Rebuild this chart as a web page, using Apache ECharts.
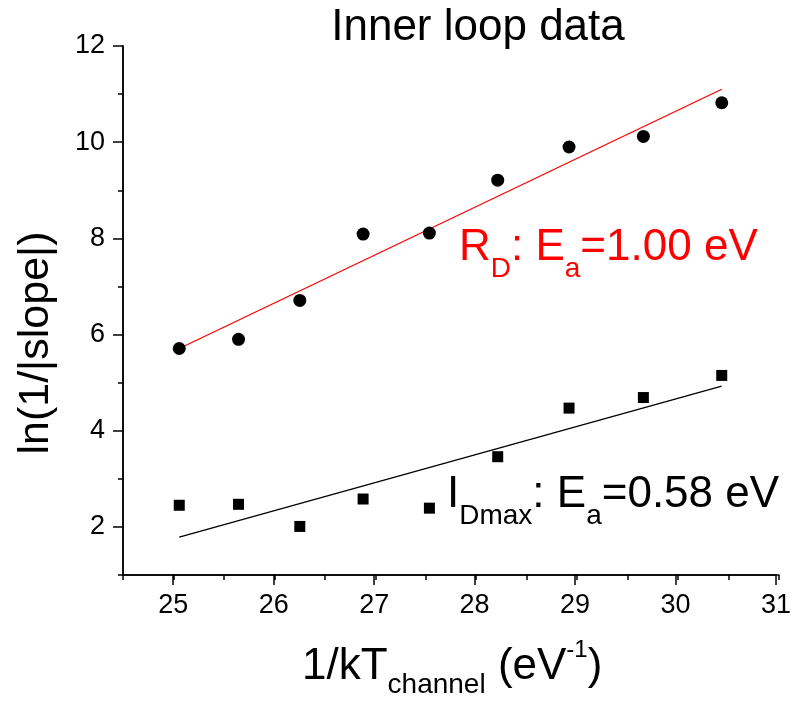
<!DOCTYPE html>
<html>
<head>
<meta charset="utf-8">
<script src="https://cdn.jsdelivr.net/npm/echarts@6/dist/echarts.min.js"></script>
<style>html,body{margin:0;padding:0;background:#fff}#c{width:794px;height:702px}</style>
</head>
<body>
<div id="c"></div>
<script>
// Data
const invKT = [25.06, 25.65, 26.26, 26.89, 27.55, 28.23, 28.94, 29.68, 30.46];
const lnRD = [5.71, 5.90, 6.71, 8.09, 8.11, 9.21, 9.90, 10.12, 10.82];
const lnIDmax = [2.45, 2.47, 2.01, 2.58, 2.39, 3.46, 4.47, 4.69, 5.15];
const fitRD = [[25.06, 5.71], [30.46, 11.10]];
const fitIDmax = [[25.06, 1.79], [30.46, 4.93]];
const xMajorTicks = [25, 26, 27, 28, 29, 30, 31];
const yMajorTicks = [2, 4, 6, 8, 10, 12];

const FONT = '"Liberation Sans", Arial, sans-serif';
const chart = echarts.init(document.getElementById('c'), null, {renderer: 'canvas'});
const gridBox = {left: 123, top: 46, width: 656, height: 529};
const axisLineStyle = {color: '#000', width: 1.5};

const option = {
  animation: false,
  backgroundColor: '#fff',
  grid: [Object.assign({}, gridBox), Object.assign({}, gridBox)],
  xAxis: [
    {gridIndex: 0, type: 'value', min: 24.5, max: 31, interval: 0.5,
     axisLine: {show: true, lineStyle: axisLineStyle},
     axisTick: {show: true, length: 5, lineStyle: axisLineStyle},
     axisLabel: {show: false}, splitLine: {show: false}},
    {gridIndex: 1, type: 'value', min: 24.5, max: 31,
     axisLine: {show: true, lineStyle: axisLineStyle},
     axisTick: {show: true, length: 10, customValues: xMajorTicks, lineStyle: axisLineStyle},
     axisLabel: {show: true, customValues: xMajorTicks, fontSize: 27, fontFamily: FONT, color: '#000', margin: 17},
     splitLine: {show: false}}
  ],
  yAxis: [
    {gridIndex: 0, type: 'value', min: 1, max: 12, interval: 1,
     axisLine: {show: true, lineStyle: axisLineStyle},
     axisTick: {show: true, length: 5, lineStyle: axisLineStyle},
     axisLabel: {show: false}, splitLine: {show: false}},
    {gridIndex: 1, type: 'value', min: 1, max: 12,
     axisLine: {show: true, lineStyle: axisLineStyle},
     axisTick: {show: true, length: 10, customValues: yMajorTicks, lineStyle: axisLineStyle},
     axisLabel: {show: true, customValues: yMajorTicks, fontSize: 27, fontFamily: FONT, color: '#000', margin: 18},
     splitLine: {show: false}}
  ],
  series: [
    {type: 'line', xAxisIndex: 1, yAxisIndex: 1, data: fitRD, symbol: 'none',
     lineStyle: {color: '#ff0000', width: 1.3}, z: 2},
    {type: 'line', xAxisIndex: 1, yAxisIndex: 1, data: fitIDmax, symbol: 'none',
     lineStyle: {color: '#000', width: 1.3}, z: 2},
    {type: 'scatter', xAxisIndex: 1, yAxisIndex: 1, symbol: 'circle', symbolSize: 13,
     itemStyle: {color: '#000', opacity: 1}, data: invKT.map((x, i) => [x, lnRD[i]]), z: 3},
    {type: 'scatter', xAxisIndex: 1, yAxisIndex: 1, symbol: 'rect', symbolSize: 11,
     itemStyle: {color: '#000', opacity: 1}, data: invKT.map((x, i) => [x, lnIDmax[i]]), z: 3}
  ],
  graphic: [
    {type: 'text', x: 478, y: 28, style: {text: 'Inner loop data', font: '44px ' + FONT, fill: '#000', align: 'center', verticalAlign: 'middle'}},
    {type: 'text', x: 36, y: 343, rotation: Math.PI / 2,
     style: {text: 'ln(1/|slope|)', font: '43px ' + FONT, fill: '#000', align: 'center', verticalAlign: 'middle'}},
    {type: 'text', x: 302, y: 637,
     style: {text: '{m|1/kT}{b|channel}{m| (eV}{p|-1}{m|)}', align: 'left', verticalAlign: 'top', fill: '#000',
       rich: {
         m: {fontSize: 44, fontFamily: FONT, fill: '#000', verticalAlign: 'top', padding: [8, 0, 0, 0]},
         b: {fontSize: 28, fontFamily: FONT, fill: '#000', verticalAlign: 'top', padding: [34, 0, 0, 0]},
         p: {fontSize: 24, fontFamily: FONT, fill: '#000', verticalAlign: 'top', padding: [1, 0, 0, 0]}
       }}},
    {type: 'text', x: 459, y: 226,
     style: {text: '{m|R}{s|D}{m|: E}{s|a}{m|=1.00 eV}', align: 'left', verticalAlign: 'top', fill: '#ff0000',
       rich: {
         m: {fontSize: 44, fontFamily: FONT, fill: '#ff0000', verticalAlign: 'top', padding: [0, 0, 0, 0]},
         s: {fontSize: 28, fontFamily: FONT, fill: '#ff0000', verticalAlign: 'top', padding: [29, 0, 0, 0]}
       }}},
    {type: 'text', x: 447, y: 473,
     style: {text: '{m|I}{s|Dmax}{m|: E}{s|a}{m|=0.58 eV}', align: 'left', verticalAlign: 'top', fill: '#000',
       rich: {
         m: {fontSize: 44, fontFamily: FONT, fill: '#000', verticalAlign: 'top', padding: [0, 0, 0, 0]},
         s: {fontSize: 28, fontFamily: FONT, fill: '#000', verticalAlign: 'top', padding: [29, 0, 0, 0]}
       }}}
  ]
};
chart.setOption(option);
</script>
</body>
</html>
